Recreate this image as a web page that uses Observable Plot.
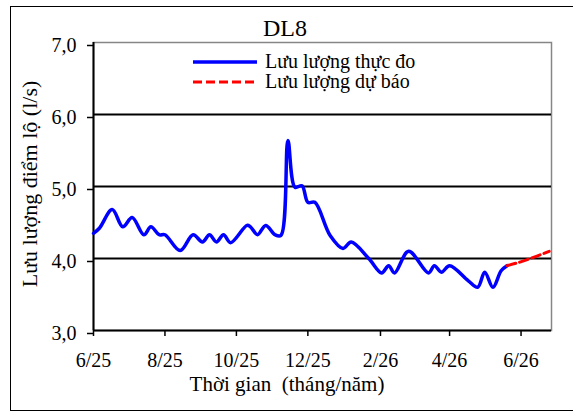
<!DOCTYPE html>
<html><head><meta charset="utf-8">
<script src="https://cdn.jsdelivr.net/npm/d3@7"></script>
<script src="https://cdn.jsdelivr.net/npm/@observablehq/plot@0.6"></script>
<style>
body{margin:0;overflow:hidden;background:#fff;font-family:"Liberation Serif","Times New Roman",serif;color:#000}
#wrap{position:relative;width:573px;height:412px;overflow:hidden}
#border{position:absolute;left:10px;top:6px;width:640px;height:405px;border:1.5px solid #000;box-sizing:border-box}
#chart{position:absolute;left:0;top:0}
.t{position:absolute;white-space:pre;line-height:1}
#title{left:285px;top:28px;transform:translate(-50%,-50%);font-size:24px}
#xlab{left:287px;top:384px;transform:translate(-50%,-50%);font-size:21px}
#ylab{left:30px;top:184px;transform:translate(-50%,-50%) rotate(-90deg);font-size:22px}
.leg{position:absolute;left:193px;font-size:20px;display:flex;align-items:center;white-space:pre}
.leg svg{margin-right:8px}
</style></head>
<body>
<div id="wrap">
<div id="border"></div>
<div id="chart"></div>
<div class="t" id="title"></div>
<div class="t" id="xlab"></div>
<div class="t" id="ylab"></div>
<div class="leg" id="leg1" style="top:50px"></div>
<div class="leg" id="leg2" style="top:70px"></div>
</div>
<script>
// ---- data ----
const chartTitle = "DL8";
const xAxisTitle = "Thời gian  (tháng/năm)";
const yAxisTitle = "Lưu lượng điểm lộ (l/s)";
const seriesNames = ["Lưu lượng thực đo", "Lưu lượng dự báo"];
const seriesColors = ["#0000ff", "#ff0000"];

const measuredDates = [
  "2025-06-01","2025-06-06","2025-06-17","2025-06-26","2025-07-04","2025-07-14","2025-07-20",
  "2025-07-27","2025-08-01","2025-08-14","2025-08-25","2025-09-02","2025-09-08","2025-09-14",
  "2025-09-20","2025-09-26","2025-10-10","2025-10-13","2025-10-19","2025-10-26","2025-11-03",
  "2025-11-08","2025-11-14","2025-11-20","2025-11-26","2025-12-01","2025-12-07","2025-12-20",
  "2025-12-31","2026-01-07","2026-01-22","2026-02-02","2026-02-08","2026-02-13","2026-02-25",
  "2026-03-14","2026-03-19","2026-03-25","2026-04-01","2026-04-17","2026-04-25","2026-05-01",
  "2026-05-08","2026-05-15","2026-05-20"
];
const measuredValues = [
  4.35, 4.42, 4.68, 4.44, 4.57, 4.33, 4.44,
  4.33, 4.33, 4.11, 4.33, 4.23, 4.33, 4.23,
  4.33, 4.22, 4.46, 4.44, 4.33, 4.46, 4.33,
  4.32, 5.64, 4.99, 5.01, 4.78, 4.78, 4.32,
  4.14, 4.23, 4.00, 3.80, 3.90, 3.80, 4.10,
  3.80, 3.90, 3.81, 3.90, 3.69, 3.60, 3.81,
  3.60, 3.83, 3.90
];
const forecastDates = ["2026-05-20","2026-05-31","2026-06-14","2026-06-25"];
const forecastValues = [3.90, 3.95, 4.03, 4.10];

const xDomain = ["2025-06-01", "2026-06-27"];
const xTickDates = ["2025-06-01","2025-08-01","2025-10-01","2025-12-01","2026-02-01","2026-04-01","2026-06-01"];
const xTickLabels = ["6/25","8/25","10/25","12/25","2/26","4/26","6/26"];
const yDomain = [3, 7];
const yTicks = [3, 4, 5, 6, 7];
const yGrid = [4, 5, 6];

// ---- build ----
const measured = measuredDates.map((d, i) => ({date: new Date(d), value: measuredValues[i]}));
const forecast = forecastDates.map((d, i) => ({date: new Date(d), value: forecastValues[i]}));
const xd = xDomain.map(d => new Date(d));
const xt = xTickDates.map(d => new Date(d));

const chart = Plot.plot({
  width: 573, height: 412,
  marginLeft: 93, marginRight: 22, marginTop: 42, marginBottom: 82,
  style: {fontFamily: '"Liberation Serif","Times New Roman",serif', fontSize: "20px", color: "#000", background: "transparent", overflow: "visible"},
  x: {type: "utc", domain: xd},
  y: {domain: yDomain},
  marks: [
    Plot.frame({stroke: "#868686", strokeWidth: 1.5}),
    Plot.ruleY(yGrid, {stroke: "#000", strokeWidth: 1.8}),
    Plot.axisY({ticks: yTicks, tickFormat: d => d.toFixed(1).replace(".", ","), tickSize: 6, tickPadding: 11, strokeWidth: 1.5, dy: 3, label: null}),
    Plot.axisX({ticks: xt, tickFormat: d => xTickLabels[xt.findIndex(t => +t === +d)], tickSize: 6, tickPadding: 16, strokeWidth: 1.5, label: null}),
    Plot.ruleX([xd[0]], {stroke: "#000", strokeWidth: 2}),
    Plot.ruleY([yDomain[0]], {stroke: "#000", strokeWidth: 2}),
    Plot.line(measured, {x: "date", y: "value", stroke: seriesColors[0], strokeWidth: 3.5, curve: "catmull-rom"}),
    Plot.line(forecast, {x: "date", y: "value", stroke: seriesColors[1], strokeWidth: 3, strokeDasharray: "9,4", curve: "catmull-rom"})
  ]
});
document.getElementById("chart").appendChild(chart);

document.getElementById("title").textContent = chartTitle;
document.getElementById("xlab").textContent = xAxisTitle;
document.getElementById("ylab").textContent = yAxisTitle;

function legendItem(el, name, color, dash) {
  const ns = "http://www.w3.org/2000/svg";
  const s = document.createElementNS(ns, "svg");
  s.setAttribute("width", 64); s.setAttribute("height", 8);
  const l = document.createElementNS(ns, "line");
  l.setAttribute("x1", 0); l.setAttribute("x2", 64); l.setAttribute("y1", 4); l.setAttribute("y2", 4);
  l.setAttribute("stroke", color); l.setAttribute("stroke-width", dash ? 3 : 3.5);
  if (dash) l.setAttribute("stroke-dasharray", "9,4");
  s.appendChild(l);
  el.appendChild(s);
  const t = document.createElement("span"); t.textContent = name; el.appendChild(t);
}
legendItem(document.getElementById("leg1"), seriesNames[0], seriesColors[0], false);
legendItem(document.getElementById("leg2"), seriesNames[1], seriesColors[1], true);
</script>
</body></html>
